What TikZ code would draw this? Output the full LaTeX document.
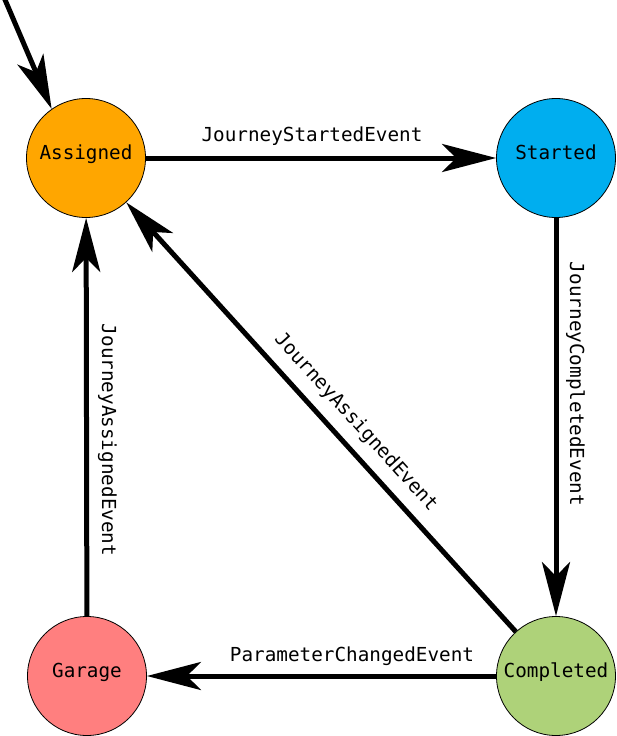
\documentclass[tikz,border=0pt]{standalone}
\usepackage{fontspec}
\setmonofont{DejaVu Sans Mono}
\usetikzlibrary{arrows.meta}
\definecolor{cAssigned}{RGB}{255,166,0}
\definecolor{cStarted}{RGB}{0,174,239}
\definecolor{cGarage}{RGB}{255,127,127}
\definecolor{cCompleted}{RGB}{174,210,121}
\begin{document}
\begin{tikzpicture}[x=1pt,y=-1pt,
  state/.style={circle,draw=black,line width=0.8pt,minimum size=119pt,inner sep=0pt,
    font=\ttfamily\fontsize{19.3}{21}\selectfont,text height=9pt,text depth=7pt},
  lbl/.style={font=\ttfamily\fontsize{19.3}{21}\selectfont,inner sep=0pt,anchor=base},
  trans/.style={line width=5pt,-{Stealth[length=54pt,width=28pt,inset=14pt]}}]
\useasboundingbox (0,0) rectangle (616,736);
\node[state,fill=cAssigned] (A) at (86,158) {Assigned};
\node[state,fill=cStarted] (S) at (556,158) {Started};
\node[state,fill=cGarage] (G) at (87,676) {Garage};
\node[state,fill=cCompleted] (C) at (556,676) {Completed};
\coordinate (init) at (3,-5);
\draw[trans] (init) -- (A.125);
\draw[trans] (A) -- (S);
\draw[trans] (S) -- (C);
\draw[trans] (C) -- (G);
\draw[trans] (G) -- (A);
\draw[trans] (C) -- (A);
\node[lbl] (l1) at (312,141) {JourneyStartedEvent};
\node[lbl,rotate=-90] (l2) at (570,384) {JourneyCompletedEvent};
\node[lbl,rotate=-90] (l3) at (102,440) {JourneyAssignedEvent};
\node[lbl,rotate=-47.8] (l4) at (352,426) {JourneyAssignedEvent};
\node[lbl] (l5) at (352,661) {ParameterChangedEvent};
\end{tikzpicture}
\end{document}
